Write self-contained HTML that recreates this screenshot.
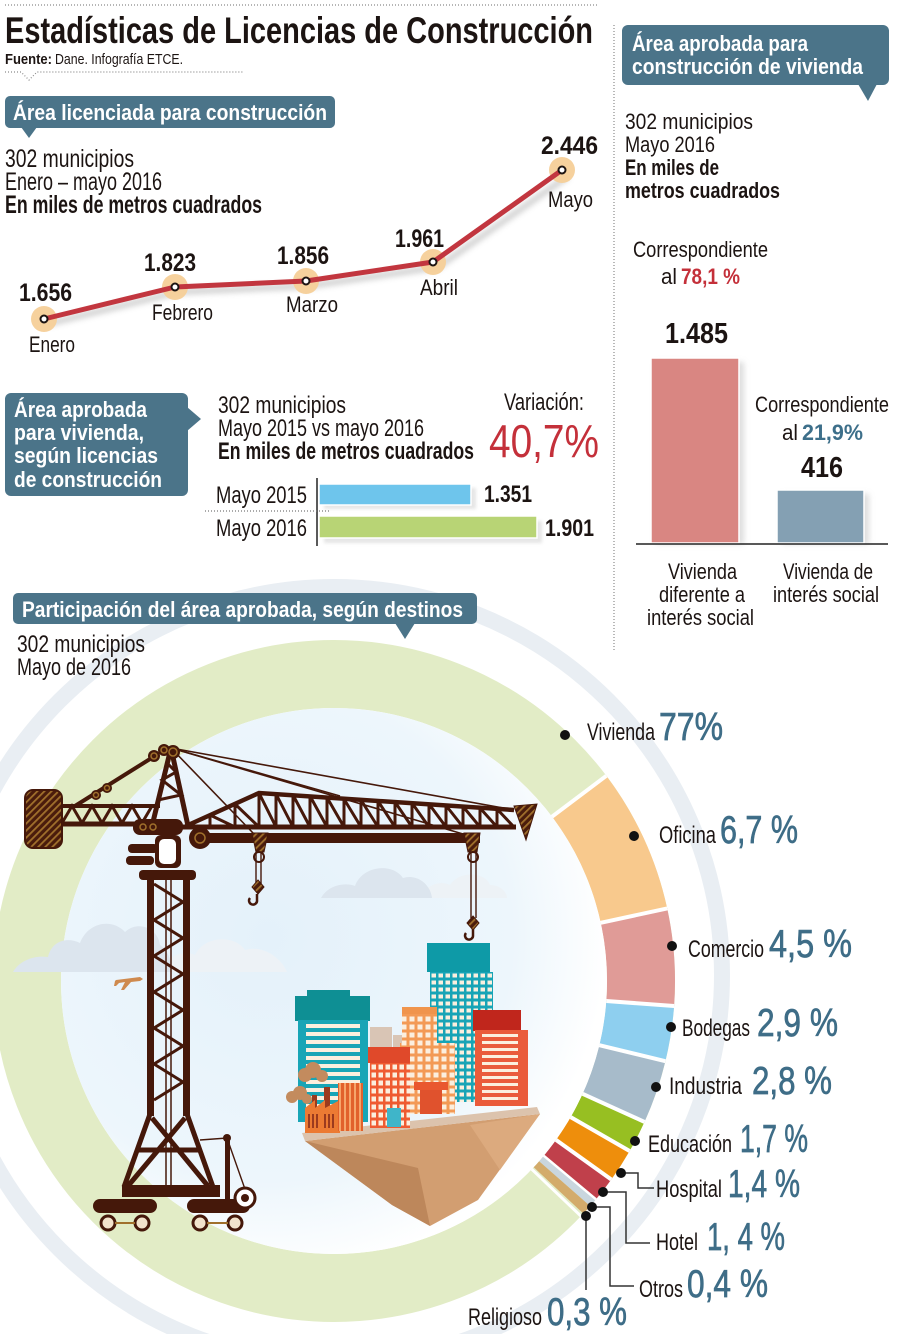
<!DOCTYPE html>
<html><head><meta charset="utf-8">
<style>
html,body{margin:0;padding:0;background:#fff;}
svg{display:block;}
text{font-family:"Liberation Sans",sans-serif;fill:#1c1412;}
.b{font-weight:bold;}
.w{fill:#fff;font-weight:bold;}
.p{fill:#3e6d87;}
</style></head>
<body>
<svg width="900" height="1334" viewBox="0 0 900 1334" xmlns="http://www.w3.org/2000/svg">
<defs>
<pattern id="h" width="5" height="5" patternUnits="userSpaceOnUse" patternTransform="rotate(45)"><rect width="5" height="5" fill="#4a1c0c"/><rect width="1.8" height="5" fill="#a0702c"/></pattern>
<pattern id="wt" x="430" y="972" width="7" height="7" patternUnits="userSpaceOnUse"><rect width="7" height="7" fill="#17a4b6"/><rect x="1.5" y="1.5" width="4.5" height="4" fill="#fbefde"/></pattern>
<pattern id="wo" x="370" y="1063" width="7" height="8" patternUnits="userSpaceOnUse"><rect width="7" height="8" fill="#ef5b31"/><rect x="1.5" y="1.5" width="4.5" height="5" fill="#fbefde"/></pattern>
<pattern id="wl" x="400" y="1007" width="8" height="8" patternUnits="userSpaceOnUse"><rect width="8" height="8" fill="#f39a55"/><rect x="1.5" y="1.5" width="5" height="5" fill="#fbefde"/></pattern>
<pattern id="st" x="300" y="1022" width="8" height="8" patternUnits="userSpaceOnUse"><rect width="8" height="8" fill="#18a5b6"/><rect y="2" width="8" height="4" fill="#fbefde"/></pattern>
<pattern id="sr" x="480" y="1032" width="8" height="7" patternUnits="userSpaceOnUse"><rect width="8" height="7" fill="#ea5b3b"/><rect y="2" width="8" height="3" fill="#fbefde"/></pattern>
<pattern id="vs" x="338" y="1083" width="5" height="5" patternUnits="userSpaceOnUse"><rect width="5" height="5" fill="#e2612b"/><rect x="1" width="2" height="5" fill="#f6a56a"/></pattern>
<radialGradient id="disk" cx="0.38" cy="0.42" r="0.62">
<stop offset="0" stop-color="#e4f1fa"/><stop offset="0.72" stop-color="#edf6fc"/><stop offset="1" stop-color="#ffffff"/>
</radialGradient>
<filter id="bl" x="-20%" y="-20%" width="140%" height="140%"><feGaussianBlur stdDeviation="3"/></filter>
<filter id="bl2" x="-50%" y="-50%" width="200%" height="200%"><feGaussianBlur stdDeviation="1.5"/></filter>
</defs>

<!-- ===== HEADER ===== -->
<line x1="5" y1="5" x2="598" y2="5" stroke="#8a8a8a" stroke-width="1.2" stroke-dasharray="1 2"/>
<text x="5" y="43" font-size="37" class="b" textLength="588" lengthAdjust="spacingAndGlyphs">Estadísticas de Licencias de Construcción</text>
<text x="5" y="64" font-size="15" class="b" textLength="47" lengthAdjust="spacingAndGlyphs">Fuente:</text>
<text x="55" y="64" font-size="15" textLength="128" lengthAdjust="spacingAndGlyphs">Dane. Infografía ETCE.</text>
<polyline points="5,72 21,72 29,80 37,72 243,72" fill="none" stroke="#8a8a8a" stroke-width="1.2" stroke-dasharray="1 2"/>

<!-- Box 1 -->
<rect x="5" y="96" width="330" height="32" rx="5" fill="#4b7489"/>
<polygon points="21,127 37,127 29,138" fill="#4b7489"/>
<text x="13" y="120" font-size="22" class="w" textLength="314" lengthAdjust="spacingAndGlyphs">Área licenciada para construcción</text>
<text x="5" y="167" font-size="25" textLength="129" lengthAdjust="spacingAndGlyphs">302 municipios</text>
<text x="5" y="190" font-size="25" textLength="157" lengthAdjust="spacingAndGlyphs">Enero – mayo 2016</text>
<text x="5" y="213" font-size="25" class="b" textLength="257" lengthAdjust="spacingAndGlyphs">En miles de metros cuadrados</text>

<!-- Line chart -->
<polyline points="47,324 178,292 309,286 438,267 568,176" fill="none" stroke="#999" stroke-width="6" opacity="0.45" filter="url(#bl)"/>
<g fill="#f6cf98" opacity="0.95">
<circle cx="44" cy="319" r="13"/><circle cx="175" cy="287" r="13"/><circle cx="306" cy="281" r="13"/><circle cx="433" cy="262" r="13"/><circle cx="562" cy="170" r="13"/>
</g>
<polyline points="44,319 175,287 306,281 433,262 562,170" fill="none" stroke="#c2363f" stroke-width="5" stroke-linejoin="round"/>
<g fill="#fff" stroke="#1c1412" stroke-width="2">
<circle cx="44" cy="319" r="3.5"/><circle cx="175" cy="287" r="3.5"/><circle cx="306" cy="281" r="3.5"/><circle cx="433" cy="262" r="3.5"/><circle cx="562" cy="170" r="3.5"/>
</g>
<g font-size="25" class="b">
<text x="19" y="301" class="b" textLength="53" lengthAdjust="spacingAndGlyphs">1.656</text>
<text x="144" y="271" class="b" textLength="52" lengthAdjust="spacingAndGlyphs">1.823</text>
<text x="277" y="264" class="b" textLength="52" lengthAdjust="spacingAndGlyphs">1.856</text>
<text x="395" y="247" class="b" textLength="49" lengthAdjust="spacingAndGlyphs">1.961</text>
<text x="541" y="154" class="b" textLength="57" lengthAdjust="spacingAndGlyphs">2.446</text>
</g>
<g font-size="22">
<text x="29" y="352" textLength="46" lengthAdjust="spacingAndGlyphs">Enero</text>
<text x="152" y="320" textLength="61" lengthAdjust="spacingAndGlyphs">Febrero</text>
<text x="286" y="312" textLength="52" lengthAdjust="spacingAndGlyphs">Marzo</text>
<text x="420" y="295" textLength="38" lengthAdjust="spacingAndGlyphs">Abril</text>
<text x="548" y="207" textLength="45" lengthAdjust="spacingAndGlyphs">Mayo</text>
</g>

<!-- Middle: vivienda bars -->
<rect x="5" y="393" width="183" height="103" rx="6" fill="#4b7489"/>
<polygon points="187,407 201,419 187,431" fill="#4b7489"/>
<g font-size="22">
<text x="14" y="417" class="w" textLength="133" lengthAdjust="spacingAndGlyphs">Área aprobada</text>
<text x="14" y="440" class="w" textLength="130" lengthAdjust="spacingAndGlyphs">para vivienda,</text>
<text x="14" y="463" class="w" textLength="144" lengthAdjust="spacingAndGlyphs">según licencias</text>
<text x="14" y="487" class="w" textLength="148" lengthAdjust="spacingAndGlyphs">de construcción</text>
</g>
<g font-size="24">
<text x="218" y="413" textLength="128" lengthAdjust="spacingAndGlyphs">302 municipios</text>
<text x="218" y="436" textLength="206" lengthAdjust="spacingAndGlyphs">Mayo 2015 vs mayo 2016</text>
<text x="218" y="459" class="b" textLength="256" lengthAdjust="spacingAndGlyphs">En miles de metros cuadrados</text>
<text x="504" y="410" textLength="80" lengthAdjust="spacingAndGlyphs">Variación:</text>
<text x="216" y="503" textLength="91" lengthAdjust="spacingAndGlyphs">Mayo 2015</text>
<text x="216" y="536" textLength="91" lengthAdjust="spacingAndGlyphs">Mayo 2016</text>
<text x="484" y="502" class="b" textLength="48" lengthAdjust="spacingAndGlyphs">1.351</text>
<text x="545" y="536" class="b" textLength="49" lengthAdjust="spacingAndGlyphs">1.901</text>
</g>
<text x="489" y="457" font-size="46" style="fill:#c4303a" textLength="110" lengthAdjust="spacingAndGlyphs">40,7%</text>
<rect x="324" y="488" width="152" height="21" fill="#ccc" opacity="0.5" filter="url(#bl2)"/>
<rect x="324" y="521" width="218" height="22" fill="#ccc" opacity="0.5" filter="url(#bl2)"/>
<rect x="319" y="484" width="152" height="21" fill="#6ec5ec" stroke="#fff" stroke-width="1.5"/>
<rect x="319" y="516" width="218" height="22" fill="#b8d475" stroke="#fff" stroke-width="1.5"/>
<line x1="317" y1="478" x2="317" y2="546" stroke="#222" stroke-width="1.5"/>
<line x1="205" y1="511" x2="330" y2="511" stroke="#777" stroke-width="1.2" stroke-dasharray="1 2"/>

<!-- ===== RIGHT PANEL ===== -->
<line x1="614" y1="25" x2="614" y2="652" stroke="#8a8a8a" stroke-width="1.2" stroke-dasharray="1 2"/>
<rect x="622" y="25" width="267" height="60" rx="6" fill="#4b7489"/>
<polygon points="858,84 877,84 868,101" fill="#4b7489"/>
<text x="632" y="51" font-size="22" class="w" textLength="176" lengthAdjust="spacingAndGlyphs">Área aprobada para</text>
<text x="632" y="74" font-size="22" class="w" textLength="231" lengthAdjust="spacingAndGlyphs">construcción de vivienda</text>
<g font-size="22">
<text x="625" y="129" textLength="128" lengthAdjust="spacingAndGlyphs">302 municipios</text>
<text x="625" y="152" textLength="90" lengthAdjust="spacingAndGlyphs">Mayo 2016</text>
<text x="625" y="175" class="b" textLength="94" lengthAdjust="spacingAndGlyphs">En miles de</text>
<text x="625" y="198" class="b" textLength="155" lengthAdjust="spacingAndGlyphs">metros cuadrados</text>
<text x="633" y="257" textLength="135" lengthAdjust="spacingAndGlyphs">Correspondiente</text>
<text x="661" y="284" textLength="16" lengthAdjust="spacingAndGlyphs">al</text>
<text x="681" y="284" class="b" style="fill:#c4303a" textLength="59" lengthAdjust="spacingAndGlyphs">78,1 %</text>
<text x="755" y="412" textLength="134" lengthAdjust="spacingAndGlyphs">Correspondiente</text>
<text x="782" y="440" textLength="16" lengthAdjust="spacingAndGlyphs">al</text>
<text x="802" y="440" class="b" style="fill:#3d6f8a" textLength="61" lengthAdjust="spacingAndGlyphs">21,9%</text>
<text x="668" y="579" textLength="69" lengthAdjust="spacingAndGlyphs">Vivienda</text>
<text x="659" y="602" textLength="86" lengthAdjust="spacingAndGlyphs">diferente a</text>
<text x="647" y="625" textLength="107" lengthAdjust="spacingAndGlyphs">interés social</text>
<text x="783" y="579" textLength="90" lengthAdjust="spacingAndGlyphs">Vivienda de</text>
<text x="773" y="602" textLength="106" lengthAdjust="spacingAndGlyphs">interés social</text>
</g>
<text x="665" y="343" font-size="29" class="b" textLength="63" lengthAdjust="spacingAndGlyphs">1.485</text>
<text x="801" y="477" font-size="29" class="b" textLength="42" lengthAdjust="spacingAndGlyphs">416</text>
<rect x="656" y="362" width="88" height="182" fill="#bbb" opacity="0.5" filter="url(#bl)"/>
<rect x="782" y="494" width="87" height="50" fill="#bbb" opacity="0.5" filter="url(#bl)"/>
<rect x="651" y="358" width="88" height="185" fill="#d98682" stroke="#fff" stroke-width="1.5"/>
<rect x="777" y="490" width="87" height="53" fill="#84a0b3" stroke="#fff" stroke-width="1.5"/>
<line x1="636" y1="544" x2="888" y2="544" stroke="#222" stroke-width="1.5"/>

<!-- ===== DONUT ===== -->
<circle cx="334" cy="975" r="388" fill="none" stroke="#e9eef3" stroke-width="16"/>
<circle cx="334" cy="981" r="307" fill="none" stroke="#e2ecc6" stroke-width="68"/>
<!-- segments -->
<path d="M606.3,775.8 A341,341 0 0 1 667.2,908.4 L600.7,922.8 A273,273 0 0 0 552.0,816.7 Z" fill="#f8c98d"/>
<path d="M667.2,908.4 A341,341 0 0 1 674.1,1006.0 L606.3,1001.0 A273,273 0 0 0 600.7,922.8 Z" fill="#e09b97"/>
<path d="M674.1,1006.0 A341,341 0 0 1 665.4,1061.2 L599.3,1045.2 A273,273 0 0 0 606.3,1001.0 Z" fill="#8ecfef"/>
<path d="M665.4,1061.2 A341,341 0 0 1 644.5,1121.9 L582.6,1093.8 A273,273 0 0 0 599.3,1045.2 Z" fill="#a7bbca"/>
<path d="M644.5,1121.9 A341,341 0 0 1 629.6,1151.0 L570.7,1117.1 A273,273 0 0 0 582.6,1093.8 Z" fill="#97bf22"/>
<path d="M629.6,1151.0 A341,341 0 0 1 611.3,1179.5 L556.0,1139.9 A273,273 0 0 0 570.7,1117.1 Z" fill="#ee8e0c"/>
<path d="M611.3,1179.5 A341,341 0 0 1 596.0,1199.3 L543.7,1155.7 A273,273 0 0 0 556.0,1139.9 Z" fill="#c0404b"/>
<path d="M596.0,1199.3 A341,341 0 0 1 590.2,1206.1 L539.1,1161.2 A273,273 0 0 0 543.7,1155.7 Z" fill="#c9d6de"/>
<path d="M590.2,1206.1 A341,341 0 0 1 583.4,1213.6 L533.7,1167.2 A273,273 0 0 0 539.1,1161.2 Z" fill="#d3ab6b"/>
<g stroke="#fff" stroke-width="4">
<line x1="552.0" y1="816.7" x2="606.3" y2="775.8"/>
<line x1="600.7" y1="922.8" x2="667.2" y2="908.4"/>
<line x1="606.3" y1="1001.0" x2="674.1" y2="1006.0"/>
<line x1="599.3" y1="1045.2" x2="665.4" y2="1061.2"/>
<line x1="582.6" y1="1093.8" x2="644.5" y2="1121.9"/>
<line x1="570.7" y1="1117.1" x2="629.6" y2="1151.0"/>
<line x1="556.0" y1="1139.9" x2="611.3" y2="1179.5"/>
<line x1="543.7" y1="1155.7" x2="596.0" y2="1199.3" stroke-width="2.5"/>
<line x1="531.7" y1="1169.2" x2="581.0" y2="1216.2" stroke-width="3"/>
</g>
<circle cx="334" cy="981" r="273" fill="url(#disk)"/>

<!-- clouds -->
<g fill="#edf2f6">
<path d="M160,972 C165,955 185,950 195,955 C205,935 235,935 245,950 C260,945 280,955 287,972 Z"/>
<path d="M421,898 C425,885 440,880 450,885 C460,870 485,872 490,885 C500,885 507,892 507,898 Z"/>
</g>
<g fill="#dce5ee">
<path d="M13,972 C20,960 35,955 48,957 C52,940 68,937 80,943 C88,922 112,918 125,932 C138,920 158,928 160,945 C168,950 172,962 172,972 Z"/>
<path d="M321,898 C328,885 345,882 355,886 C362,866 392,862 403,878 C415,874 430,882 432,898 Z"/>
</g>
<!-- airplane -->
<path d="M116,980 L140,977 L143,979 L140,981 L131,982 L124,990 L121,990 L125,982 L119,983 L116,986 L114,986 L115,981 Z" fill="#cf8a4e"/>

<!-- ===== CRANE ===== -->
<g stroke="#45180a" fill="none">
<g stroke-width="1.6">
<line x1="171" y1="748" x2="514" y2="810"/>
<line x1="171" y1="748" x2="340" y2="796"/>
<line x1="171" y1="748" x2="254" y2="834"/>
<line x1="171" y1="748" x2="463" y2="834"/>
</g>
<line x1="75" y1="806" x2="158" y2="754" stroke-width="4"/>
<line x1="60" y1="806" x2="160" y2="806" stroke-width="4"/>
<line x1="60" y1="824" x2="160" y2="824" stroke-width="5"/>
<polyline points="62,823 72,806 82,823 92,806 102,823 112,806 122,823 132,806 142,823 152,806" stroke-width="3"/>
<polyline points="152,826 171,748 188,826" stroke-width="5"/>
<polyline points="158,800 181,795 162,780 176,772 166,762" stroke-width="3"/>
<polyline points="186,826 259,793 514,810" stroke-width="4.5"/>
<line x1="180" y1="827" x2="516" y2="827" stroke-width="5"/>
<path stroke-width="3" d="M210,815V827 M235,804V827 M210,815L235,827 M235,804L259,827 M259,793V827 M276,794V827 M293,795V827 M310,796V827 M327,797.5V827 M344,799V827 M361,800V827 M378,801V827 M395,802V827 M412,803V827 M429,804V827 M446,805.5V827 M463,806.5V827 M480,808V827 M497,809V827 M259,793L276,827 M276,794L293,827 M293,795L310,827 M310,796L327,827 M327,797.5L344,827 M344,799L361,827 M361,800L378,827 M378,801L395,827 M395,802L412,827 M412,803L429,827 M429,804L446,827 M446,805.5L463,827 M463,806.5L480,827 M480,808L497,827 M497,809L514,827"/>
<polyline points="154,884 183,902 154,920 183,938 154,956 183,974 154,992 183,1010 154,1028 183,1046 154,1064 183,1082 154,1100" stroke-width="3"/>
<line x1="166" y1="880" x2="166" y2="1185" stroke-width="1.5"/>
<line x1="171" y1="880" x2="171" y2="1185" stroke-width="1.5"/>
<path d="M150,1114 L124,1187 M187,1114 L213,1187 M152,1118 L208,1186 M185,1118 L128,1186 M138,1150 H200" stroke-width="5"/>
<polyline points="200,1140 227,1138 246,1192" stroke-width="1.4"/>
<path d="M256,852V884 M261,852V884 M471,852V918 M476,852V918" stroke-width="1.4"/>
<path d="M257,894 v6 a4,4 0 1 1 -7,-2" stroke-width="2.5"/>
<path d="M473,929 v6 a4,4 0 1 1 -7,-2" stroke-width="2.5"/>
</g>
<g fill="#45180a">
<rect x="25" y="790" width="37" height="58" rx="8" fill="url(#h)" stroke="#45180a" stroke-width="2"/>
<circle cx="154" cy="756" r="6"/><circle cx="164" cy="750" r="6"/><circle cx="173" cy="752" r="7"/>
<circle cx="96" cy="795" r="5"/><circle cx="107" cy="788" r="5"/>
<rect x="133" y="819" width="50" height="16" rx="7"/>
<rect x="155" y="835" width="26" height="33" rx="6"/>
<rect x="128" y="844" width="30" height="9" rx="4"/>
<rect x="126" y="856" width="28" height="9" rx="4"/>
<rect x="139" y="870" width="57" height="10" rx="4"/>
<rect x="193" y="833" width="287" height="10"/>
<circle cx="200" cy="838" r="11"/>
<rect x="147" y="878" width="7" height="238"/>
<rect x="183" y="878" width="7" height="238"/>
<rect x="122" y="1185" width="98" height="12"/>
<rect x="93" y="1199" width="64" height="14" rx="7"/>
<rect x="187" y="1199" width="63" height="14" rx="7"/>
<rect x="225" y="1137" width="5" height="62"/>
<circle cx="227" cy="1138" r="4"/>
</g>
<g fill="none" stroke="#a0702c" stroke-width="1.5">
<circle cx="154" cy="756" r="3"/><circle cx="164" cy="750" r="3"/><circle cx="173" cy="752" r="4"/>
<circle cx="96" cy="795" r="2.5"/><circle cx="107" cy="788" r="2.5"/>
<circle cx="143" cy="827" r="3"/><circle cx="153" cy="827" r="3"/>
<circle cx="200" cy="838" r="5"/>
</g>
<rect x="159" y="839" width="17" height="25" rx="5" fill="#fff"/>
<g fill="#f2e3cc" stroke="#45180a" stroke-width="3">
<circle cx="108" cy="1223" r="7"/><circle cx="142" cy="1223" r="7"/>
<circle cx="200" cy="1223" r="7"/><circle cx="235" cy="1223" r="7"/>
</g>
<g stroke="#a0702c" stroke-width="2"><line x1="115" y1="1223" x2="135" y2="1223"/><line x1="207" y1="1223" x2="228" y2="1223"/></g>
<circle cx="245" cy="1198" r="10" fill="#fff" stroke="#45180a" stroke-width="3"/>
<circle cx="245" cy="1198" r="4" fill="#45180a"/>
<polygon points="252,833 268,833 264,852 256,852" fill="url(#h)" stroke="#45180a" stroke-width="1"/>
<polygon points="464,833 480,833 477,852 468,852" fill="url(#h)" stroke="#45180a" stroke-width="1"/>
<polygon points="514,806 537,804 526,840" fill="url(#h)" stroke="#45180a" stroke-width="1"/>
<circle cx="259" cy="857" r="5" fill="none" stroke="#45180a" stroke-width="2"/>
<circle cx="473" cy="857" r="5" fill="none" stroke="#45180a" stroke-width="2"/>
<polygon points="258,880 264,887 258,894 252,887" fill="url(#h)" stroke="#45180a"/>
<polygon points="473,916 479,923 473,930 467,923" fill="url(#h)" stroke="#45180a"/>

<!-- ===== BUILDINGS ===== -->
<polygon points="305,1141 540,1114 478,1200 430,1226 392,1205" fill="#d29e71"/>
<polygon points="305,1141 392,1205 430,1226 418,1168" fill="#bd875b"/>
<polygon points="470,1125 540,1114 500,1170" fill="#dcaa7e"/>
<polygon points="302,1133 537,1107 540,1114 305,1141" fill="#dcc3ad"/>
<rect x="370" y="1027" width="22" height="25" fill="#d9c5b5"/>
<rect x="393" y="1035" width="15" height="16" fill="#d9c5b5"/>
<rect x="427" y="943" width="63" height="29" fill="#0e9aa7"/>
<rect x="430" y="972" width="63" height="130" fill="url(#wt)"/>
<rect x="307" y="990" width="43" height="8" fill="#0e8f94"/>
<rect x="295" y="996" width="75" height="25" fill="#0e8f94"/>
<rect x="298" y="1020" width="70" height="102" fill="#18a5b6"/>
<rect x="306" y="1024" width="54" height="94" fill="url(#st)"/>
<rect x="473" y="1010" width="48" height="21" fill="#c0261c"/>
<rect x="475" y="1030" width="53" height="76" fill="#ea5b3b"/>
<rect x="482" y="1034" width="36" height="68" fill="url(#sr)"/>
<rect x="402" y="1007" width="35" height="37" fill="url(#wl)"/>
<rect x="402" y="1007" width="35" height="7" fill="#f0944c"/>
<rect x="400" y="1043" width="55" height="71" fill="url(#wl)"/>
<rect x="414" y="1082" width="34" height="8" fill="#e9582f"/>
<rect x="420" y="1090" width="22" height="24" fill="#e0522d"/>
<rect x="368" y="1047" width="42" height="16" fill="#e0492a"/>
<rect x="370" y="1063" width="40" height="65" fill="url(#wo)"/>
<rect x="387" y="1108" width="14" height="19" fill="#3fb5c9"/>
<rect x="324" y="1087" width="6" height="22" fill="#9b3a1e"/>
<rect x="312" y="1095" width="5" height="14" fill="#9b3a1e"/>
<polygon points="305,1108 315,1100 315,1108 325,1100 325,1108 340,1100 340,1133 305,1133" fill="#ec7a33"/>
<path d="M309,1114v14 M313,1114v14 M317,1114v14 M325,1114v14 M329,1114v14 M333,1114v14" stroke="#9b3a1e" stroke-width="2"/>
<rect x="338" y="1083" width="25" height="48" fill="url(#vs)"/>
<g fill="#c38b5e">
<circle cx="305" cy="1075" r="7"/><circle cx="313" cy="1070" r="8"/><circle cx="322" cy="1076" r="6"/>
<circle cx="292" cy="1097" r="6"/><circle cx="300" cy="1093" r="7"/><circle cx="307" cy="1099" r="5"/>
</g>

<!-- ===== DONUT LABELS ===== -->
<rect x="13" y="593" width="464" height="31" rx="5" fill="#4b7489"/>
<polygon points="395,623 415,623 405,639" fill="#4b7489"/>
<text x="22" y="617" font-size="22" class="w" textLength="441" lengthAdjust="spacingAndGlyphs">Participación del área aprobada, según destinos</text>
<text x="17" y="652" font-size="24" textLength="128" lengthAdjust="spacingAndGlyphs">302 municipios</text>
<text x="17" y="675" font-size="24" textLength="114" lengthAdjust="spacingAndGlyphs">Mayo de 2016</text>

<g fill="none" stroke="#333" stroke-width="1.5">
<polyline points="621,1173 638,1173 638,1188 654,1188"/>
<polyline points="603,1192 626,1192 626,1243 650,1243"/>
<polyline points="592,1207 610,1207 610,1286 634,1286"/>
<polyline points="586,1216 586,1290"/>
</g>
<g fill="#111">
<circle cx="565" cy="735" r="5"/><circle cx="634" cy="836" r="5"/><circle cx="672" cy="946" r="5"/>
<circle cx="671" cy="1027" r="5"/><circle cx="656" cy="1087" r="5"/><circle cx="635" cy="1141" r="5"/>
<circle cx="621" cy="1173" r="5"/><circle cx="603" cy="1192" r="5"/><circle cx="592" cy="1207" r="5"/>
<circle cx="586" cy="1216" r="5"/>
</g>
<g font-size="24">
<text x="587" y="740" textLength="68" lengthAdjust="spacingAndGlyphs">Vivienda</text>
<text x="659" y="843" textLength="57" lengthAdjust="spacingAndGlyphs">Oficina</text>
<text x="688" y="957" textLength="76" lengthAdjust="spacingAndGlyphs">Comercio</text>
<text x="682" y="1036" textLength="68" lengthAdjust="spacingAndGlyphs">Bodegas</text>
<text x="669" y="1094" textLength="73" lengthAdjust="spacingAndGlyphs">Industria</text>
<text x="648" y="1152" textLength="84" lengthAdjust="spacingAndGlyphs">Educación</text>
<text x="656" y="1197" textLength="66" lengthAdjust="spacingAndGlyphs">Hospital</text>
<text x="656" y="1250" textLength="42" lengthAdjust="spacingAndGlyphs">Hotel</text>
<text x="639" y="1297" textLength="44" lengthAdjust="spacingAndGlyphs">Otros</text>
<text x="468" y="1325" textLength="74" lengthAdjust="spacingAndGlyphs">Religioso</text>
</g>
<g font-size="39" style="fill:#3e6d87;stroke:#3e6d87;stroke-width:0.7">
<text x="659" y="740" style="fill:#3e6d87" textLength="64" lengthAdjust="spacingAndGlyphs">77%</text>
<text x="720" y="843" style="fill:#3e6d87" textLength="78" lengthAdjust="spacingAndGlyphs">6,7 %</text>
<text x="769" y="957" style="fill:#3e6d87" textLength="83" lengthAdjust="spacingAndGlyphs">4,5 %</text>
<text x="757" y="1036" style="fill:#3e6d87" textLength="81" lengthAdjust="spacingAndGlyphs">2,9 %</text>
<text x="752" y="1094" style="fill:#3e6d87" textLength="80" lengthAdjust="spacingAndGlyphs">2,8 %</text>
<text x="740" y="1152" style="fill:#3e6d87" textLength="68" lengthAdjust="spacingAndGlyphs">1,7 %</text>
<text x="728" y="1197" style="fill:#3e6d87" textLength="72" lengthAdjust="spacingAndGlyphs">1,4 %</text>
<text x="707" y="1250" style="fill:#3e6d87" textLength="78" lengthAdjust="spacingAndGlyphs">1, 4 %</text>
<text x="687" y="1297" style="fill:#3e6d87" textLength="81" lengthAdjust="spacingAndGlyphs">0,4 %</text>
<text x="547" y="1325" style="fill:#3e6d87" textLength="80" lengthAdjust="spacingAndGlyphs">0,3 %</text>
</g>
</svg>
</body></html>
